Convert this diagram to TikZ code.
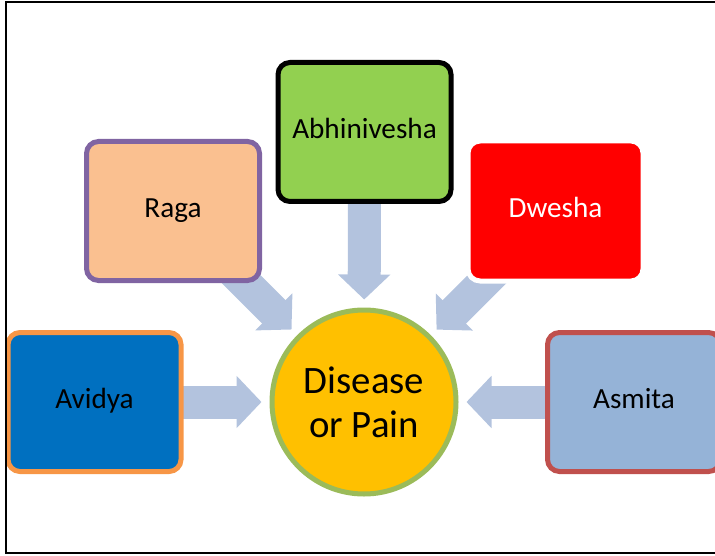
\documentclass[tikz,border=0pt]{standalone}
\usepackage{fontspec}
\setmainfont{Carlito}
\usetikzlibrary{arrows.meta}
\pgfdeclarelayer{background}
\pgfsetlayers{background,main}

\definecolor{avidyafill}{HTML}{0070C0}
\definecolor{avidyaline}{HTML}{F79646}
\definecolor{ragafill}{HTML}{FAC090}
\definecolor{ragaline}{HTML}{8064A2}
\definecolor{abhifill}{HTML}{92D050}
\definecolor{dweshafill}{HTML}{FF0000}
\definecolor{asmitafill}{HTML}{95B3D7}
\definecolor{asmitaline}{HTML}{C0504D}
\definecolor{corefill}{HTML}{FFC000}
\definecolor{coreline}{HTML}{9BBB59}
\definecolor{flowblue}{HTML}{B3C3DE}

\tikzset{
  cause/.style={draw, rounded corners=6pt, line width=2.5pt,
    minimum width=86.5pt, minimum height=69.5pt, inner sep=0pt,
    text height=8.5pt, text depth=2pt,
    font=\fontsize{14.6}{17}\selectfont},
  core/.style={circle, draw=coreline, fill=corefill, line width=2.5pt,
    minimum size=92pt, inner sep=0pt, align=center,
    font=\fontsize{19.4}{22}\selectfont},
  flow/.style={draw=flowblue, line width=16.5pt,
    -{Triangle[length=12.5pt,width=25.5pt]}, shorten >=4pt},
  frame/.style={draw=black, line width=1pt}
}

\begin{document}
\begin{tikzpicture}[x=0.5pt,y=-0.5pt]
\useasboundingbox (0,0) rectangle (715,555);
\clip (0,0) rectangle (715,555);

% the five causes around the central effect
\node[core] (disease) at (364,402) {Disease\\or Pain};
\node[cause, draw=avidyaline, fill=avidyafill] (avidya) at (94.5,402) {Avidya};
\node[cause, draw=ragaline, fill=ragafill] (raga) at (173,211) {Raga};
\node[cause, draw=black, fill=abhifill] (abhi) at (364.5,132) {Abhinivesha};
\node[cause, draw=white, fill=dweshafill, text=white,
      minimum width=87.5pt, minimum height=70pt] (dwesha) at (555.5,211) {Dwesha};
\node[cause, draw=asmitaline, fill=asmitafill] (asmita) at (634,402) {Asmita};

% block arrows pointing at the centre, behind the boxes
\begin{pgfonlayer}{background}
  \draw[flow] (avidya.center) -- (disease);
  \draw[flow] (raga.center) -- (disease);
  \draw[flow] (abhi.center) -- (disease);
  \draw[flow] (dwesha.center) -- (disease);
  \draw[flow] (asmita.center) -- (disease);
\end{pgfonlayer}

% outer frame
\draw[frame] (5.8,2) rectangle (740,553);
\end{tikzpicture}
\end{document}
